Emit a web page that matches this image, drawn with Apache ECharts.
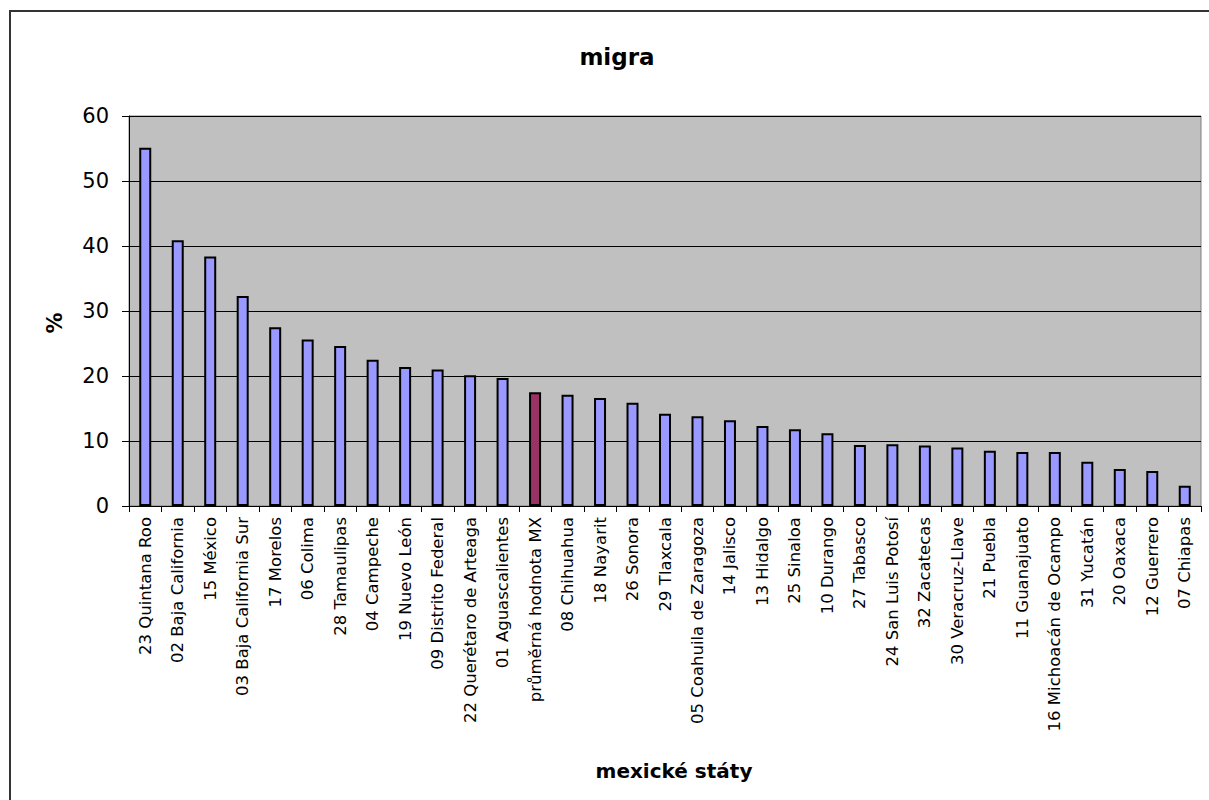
<!DOCTYPE html>
<html>
<head>
<meta charset="utf-8">
<script src="https://cdn.jsdelivr.net/npm/echarts@6/dist/echarts.min.js"></script>
<style>html,body{margin:0;padding:0;background:#fff;}#chart{width:1209px;height:800px;}</style>
</head>
<body>
<div id="chart"></div>
<script>
const categories = ["23 Quintana Roo", "02 Baja California", "15 México", "03 Baja California Sur", "17 Morelos", "06 Colima", "28 Tamaulipas", "04 Campeche", "19 Nuevo León", "09 Distrito Federal", "22 Querétaro de Arteaga", "01 Aguascalientes", "průměrná hodnota MX", "08 Chihuahua", "18 Nayarit", "26 Sonora", "29 Tlaxcala", "05 Coahuila de Zaragoza", "14 Jalisco", "13 Hidalgo", "25 Sinaloa", "10 Durango", "27 Tabasco", "24 San Luis Potosí", "32 Zacatecas", "30 Veracruz-Llave", "21 Puebla", "11 Guanajuato", "16 Michoacán de Ocampo", "31 Yucatán", "20 Oaxaca", "12 Guerrero", "07 Chiapas"];
const values = [55.1, 40.9, 38.4, 32.3, 27.5, 25.6, 24.6, 22.5, 21.4, 21.0, 20.1, 19.7, 17.5, 17.1, 16.6, 15.9, 14.2, 13.8, 13.2, 12.3, 11.8, 11.2, 9.4, 9.5, 9.3, 9.0, 8.5, 8.3, 8.3, 6.8, 5.7, 5.4, 3.1];
const highlightCategory = "průměrná hodnota MX";
const yTicks = [0, 10, 20, 30, 40, 50, 60];
const titleText = "migra";
const xAxisTitle = "mexické státy";
const yAxisTitle = "%";

const FONT = "'DejaVu Sans', Verdana, sans-serif";
const chart = echarts.init(document.getElementById('chart'), null, {renderer: 'svg'});
const data = categories.map((c, i) => ({
  value: values[i],
  itemStyle: c === highlightCategory ? {color: '#993366'} : undefined
}));
chart.setOption({
  animation: false,
  backgroundColor: '#ffffff',
  title: {
    text: titleText,
    left: 612,
    textAlign: 'center',
    top: 40,
    textStyle: {fontFamily: FONT, fontSize: 23, fontWeight: 'bold', color: '#000'}
  },
  graphic: [{
    type: 'rect',
    shape: {x: 10, y: 11, width: 1400, height: 1000},
    style: {fill: 'none', stroke: '#333', lineWidth: 2},
    silent: true
  }],
  grid: {
    left: 129, right: 8, top: 116, bottom: 294,
    show: true, backgroundColor: '#C0C0C0', borderColor: '#808080', borderWidth: 1
  },
  xAxis: {
    type: 'category',
    data: categories,
    name: xAxisTitle,
    nameLocation: 'middle',
    nameGap: 255,
    nameTextStyle: {fontFamily: FONT, fontSize: 20, fontWeight: 'bold', color: '#000', padding: [0, 0, 0, 18]},
    axisLine: {show: true, lineStyle: {color: '#000', width: 1}},
    axisTick: {show: true, alignWithLabel: false, length: 6, lineStyle: {color: '#000'}},
    axisLabel: {rotate: 90, interval: 0, margin: 11, fontFamily: FONT, fontSize: 16.5, color: '#000'},
    splitLine: {show: false}
  },
  yAxis: {
    type: 'value',
    min: 0, max: 60, interval: 10,
    name: yAxisTitle,
    nameLocation: 'middle',
    nameGap: 64,
    nameTextStyle: {fontFamily: FONT, fontSize: 21, fontWeight: 'bold', color: '#000', padding: [0, 24, 0, 0]},
    axisLine: {show: true, lineStyle: {color: '#000', width: 1}},
    axisTick: {show: true, length: 7, lineStyle: {color: '#000'}},
    axisLabel: {margin: 20, fontFamily: FONT, fontSize: 21, color: '#000',
      formatter: v => yTicks.includes(v) ? String(v) : ''},
    splitLine: {show: true, lineStyle: {color: '#000', width: 1}}
  },
  series: [{
    type: 'bar',
    data: data,
    barWidth: 12,
    itemStyle: {color: '#9999FF', borderColor: '#000', borderWidth: 2}
  }]
});
</script>
</body>
</html>
